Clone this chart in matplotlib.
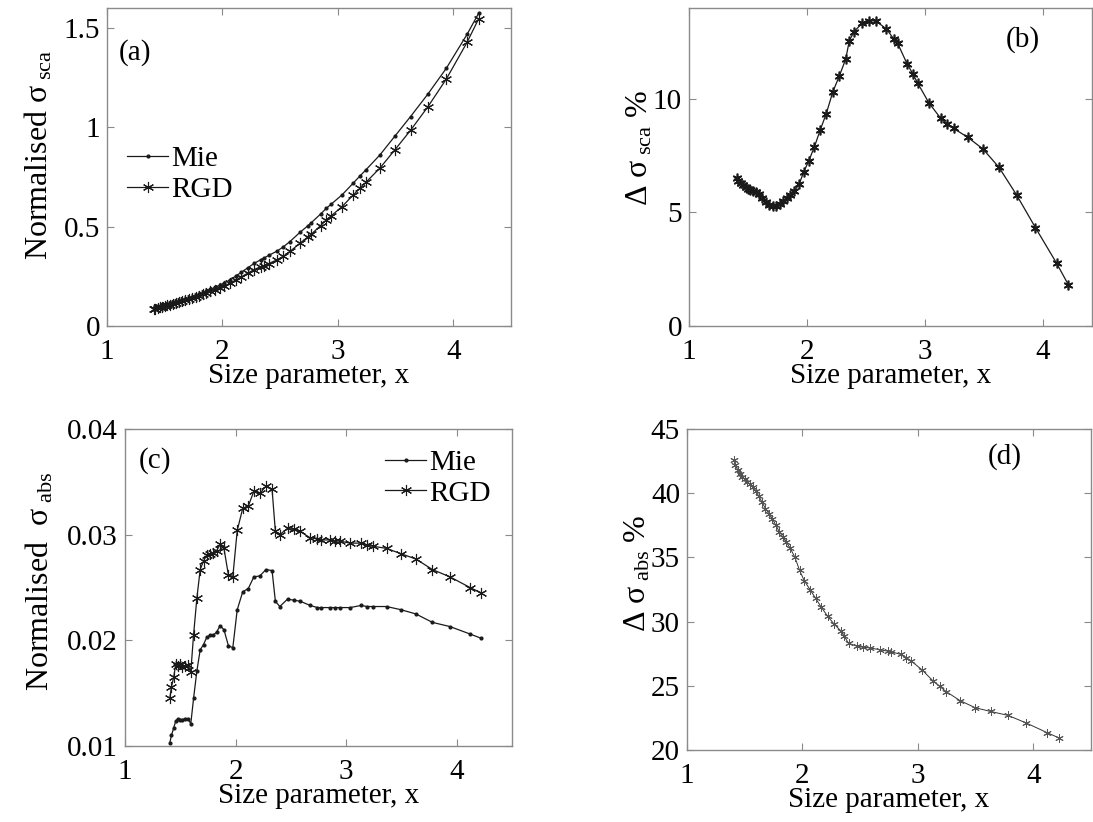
import numpy as np
import matplotlib
matplotlib.use("Agg")
import matplotlib.pyplot as plt

plt.rcParams["font.family"] = ["Liberation Serif", "DejaVu Serif"]
plt.rcParams["mathtext.fontset"] = "custom"
plt.rcParams["mathtext.rm"] = "Liberation Serif"
plt.rcParams["mathtext.it"] = "Liberation Serif:italic"
plt.rcParams["font.size"] = 21

# size parameter (shared by all panels)
size_param = [1.405, 1.42, 1.44, 1.46, 1.48, 1.50, 1.52, 1.545, 1.57, 1.595,
              1.62, 1.65, 1.68, 1.71, 1.74, 1.77, 1.80, 1.83, 1.86, 1.895,
              1.935, 1.975, 2.015, 2.065, 2.115, 2.165, 2.22, 2.275, 2.33, 2.36,
              2.40, 2.47, 2.525, 2.585, 2.675, 2.74, 2.77, 2.85, 2.90, 2.94,
              3.035, 3.135, 3.19, 3.245, 3.365, 3.495, 3.63, 3.78, 3.94, 4.12,
              4.22]

# (a) normalised scattering cross section
sca_mie = [0.091, 0.094, 0.097, 0.101, 0.104, 0.107, 0.110, 0.114, 0.119, 0.123,
           0.127, 0.132, 0.137, 0.142, 0.148, 0.154, 0.160, 0.168, 0.176, 0.184,
           0.195, 0.205, 0.216, 0.232, 0.251, 0.271, 0.293, 0.315, 0.333, 0.342,
           0.355, 0.376, 0.397, 0.425, 0.473, 0.504, 0.520, 0.563, 0.592, 0.612,
           0.659, 0.720, 0.754, 0.787, 0.861, 0.956, 1.054, 1.167, 1.297, 1.468,
           1.574]
sca_rgd = [0.085, 0.088, 0.091, 0.095, 0.098, 0.101, 0.104, 0.108, 0.112, 0.116,
           0.120, 0.125, 0.130, 0.135, 0.141, 0.146, 0.152, 0.159, 0.166, 0.174,
           0.183, 0.192, 0.201, 0.215, 0.231, 0.248, 0.266, 0.284, 0.298, 0.304,
           0.314, 0.332, 0.350, 0.375, 0.418, 0.448, 0.462, 0.505, 0.533, 0.553,
           0.600, 0.660, 0.692, 0.724, 0.795, 0.887, 0.985, 1.103, 1.243, 1.428,
           1.546]

# (b) scattering difference, %
sca_diff = [6.50, 6.40, 6.30, 6.20, 6.10, 6.05, 6.00, 5.95, 5.90, 5.80,
            5.62, 5.45, 5.33, 5.28, 5.30, 5.38, 5.50, 5.62, 5.75, 5.95,
            6.25, 6.80, 7.25, 7.90, 8.65, 9.35, 10.3, 11.0, 11.75, 12.55,
            12.96, 13.33, 13.44, 13.43, 13.08, 12.62, 12.45, 11.55, 11.1, 10.7,
            9.83, 9.15, 8.90, 8.70, 8.31, 7.79, 6.99, 5.77, 4.33, 2.76,
            1.81]

# (c) normalised absorption cross section
abs_mie = [0.0103, 0.0110, 0.0117, 0.0124, 0.0126, 0.0125, 0.0125, 0.0126, 0.0126, 0.0121,
           0.0145, 0.0171, 0.0191, 0.0196, 0.0203, 0.0205, 0.0205, 0.0208, 0.0214, 0.0210,
           0.0195, 0.0193, 0.0229, 0.0246, 0.0249, 0.0260, 0.0261, 0.0267, 0.0266, 0.0237,
           0.0232, 0.0239, 0.0238, 0.0237, 0.0233, 0.0231, 0.0231, 0.0231, 0.0231, 0.0231,
           0.0231, 0.0233, 0.0232, 0.0232, 0.0232, 0.0229, 0.0225, 0.0217, 0.0213, 0.0206,
           0.0202]
abs_rgd = [0.0145, 0.0156, 0.0165, 0.0178, 0.0176, 0.0178, 0.0175, 0.0176, 0.0177, 0.0170,
           0.0205, 0.0240, 0.0267, 0.0275, 0.0281, 0.0282, 0.0283, 0.0285, 0.0291, 0.0287,
           0.0262, 0.0260, 0.0304, 0.0325, 0.0327, 0.0341, 0.0339, 0.0346, 0.0343, 0.0303,
           0.0300, 0.0306, 0.0305, 0.0303, 0.0297, 0.0296, 0.0295, 0.0295, 0.0294, 0.0294,
           0.0292, 0.0292, 0.0290, 0.0289, 0.0287, 0.0282, 0.0277, 0.0267, 0.0260, 0.0250,
           0.0245]

# (d) absorption difference, %
abs_diff = [42.6, 42.2, 41.8, 41.5, 41.3, 41.1, 40.9, 40.7, 40.5, 40.2,
            39.8, 39.3, 38.8, 38.4, 38.0, 37.5, 37.0, 36.6, 36.2, 35.7,
            35.0, 34.0, 33.2, 32.5, 31.8, 31.1, 30.4, 29.8, 29.3, 28.9,
            28.3, 28.1, 28.0, 27.95, 27.8, 27.7, 27.65, 27.45, 27.2, 26.95,
            26.25, 25.35, 24.95, 24.55, 23.85, 23.3, 23.0, 22.7, 22.1, 21.35,
            20.95]

W, H = 1093, 822
AST = (6, 2, 0)
LINE = "#1a1a1a"
SPINE = "#8a8a8a"
FS = 21
YFS = 23


def px_axes(fig, left, right, top, bottom):
    return fig.add_axes([left / W, 1 - bottom / H, (right - left) / W, (bottom - top) / H])


def style(ax):
    for s in ax.spines.values():
        s.set_color(SPINE)
        s.set_linewidth(1.0)
    ax.tick_params(direction="in", top=True, right=True, length=5, width=0.8,
                   color=SPINE, labelsize=FS)
    ax.tick_params(axis="x", pad=9)
    ax.tick_params(axis="y", pad=5)
    ax.set_xticks([1, 2, 3, 4])
    ax.set_xlabel("Size parameter, x", fontsize=FS, labelpad=-1)


fig = plt.figure(figsize=(W / 100, H / 100), dpi=100)

# (a)
ax = px_axes(fig, 107, 511, 8, 326)
ax.plot(size_param, sca_mie, color=LINE, lw=0.9, marker=".", ms=4, label="Mie")
ax.plot(size_param, sca_rgd, color=LINE, lw=0.9, marker=AST, ms=8, mew=0.8, label="RGD")
ax.set_xlim(1, 4.5)
ax.set_ylim(0, 1.6)
ax.set_yticks([0, 0.5, 1, 1.5])
ax.set_yticklabels(["0", "0.5", "1", "1.5"])
style(ax)
ax.set_ylabel(r"Normalised $\mathrm{\sigma}_{\ \mathrm{sca}}$", fontsize=YFS)
ax.yaxis.set_label_coords(-0.13, 0.54)
ax.text(0.069, 0.86, "(a)", transform=ax.transAxes, ha="center", va="center", fontsize=FS)
ax.legend(loc="upper left", bbox_to_anchor=(0.0, 0.63), frameon=False, fontsize=FS,
          handlelength=1.4, handletextpad=0.1, labelspacing=0.15, borderaxespad=0.3)

# (b)
ax = px_axes(fig, 689, 1092, 8, 326)
ax.plot(size_param, sca_diff, color=LINE, lw=0.9, marker=AST, ms=7, mew=1.2)
ax.set_xlim(1, 4.42)
ax.set_ylim(0, 14)
ax.set_yticks([0, 5, 10])
style(ax)
ax.set_ylabel(r"$\Delta\ \mathrm{\sigma}_{\ \mathrm{sca}}$ %", fontsize=YFS)
ax.yaxis.set_label_coords(-0.085, 0.56)
ax.text(0.829, 0.90, "(b)", transform=ax.transAxes, ha="center", va="center", fontsize=FS)

# (c)
ax = px_axes(fig, 125, 512, 429, 746)
ax.plot(size_param, abs_mie, color=LINE, lw=0.9, marker=".", ms=4, label="Mie")
ax.plot(size_param, abs_rgd, color=LINE, lw=0.9, marker=AST, ms=8, mew=0.8, label="RGD")
ax.set_xlim(1, 4.5)
ax.set_ylim(0.01, 0.04)
ax.set_yticks([0.01, 0.02, 0.03, 0.04])
ax.set_yticklabels(["0.01", "0.02", "0.03", "0.04"])
style(ax)
ax.set_ylabel(r"Normalised  $\mathrm{\sigma}_{\ \mathrm{abs}}$", fontsize=YFS)
ax.yaxis.set_label_coords(-0.18, 0.52)
ax.text(0.078, 0.90, "(c)", transform=ax.transAxes, ha="center", va="center", fontsize=FS)
ax.legend(loc="upper left", bbox_to_anchor=(0.62, 1.0), frameon=False, fontsize=FS,
          handlelength=1.4, handletextpad=0.1, labelspacing=0.15, borderaxespad=0.3)

# (d)
ax = px_axes(fig, 687, 1091, 429, 750)
ax.plot(size_param, abs_diff, color="#333333", lw=0.7, marker=AST, ms=6, mew=0.7,
        markeredgecolor="#555555")
ax.set_xlim(1, 4.5)
ax.set_ylim(20, 45)
ax.set_yticks([20, 25, 30, 35, 40, 45])
style(ax)
ax.set_ylabel(r"$\Delta\ \mathrm{\sigma}_{\ \mathrm{abs}}$ %", fontsize=YFS)
ax.yaxis.set_label_coords(-0.085, 0.55)
ax.text(0.787, 0.913, "(d)", transform=ax.transAxes, ha="center", va="center", fontsize=FS)

fig.savefig("out.png", dpi=100)
